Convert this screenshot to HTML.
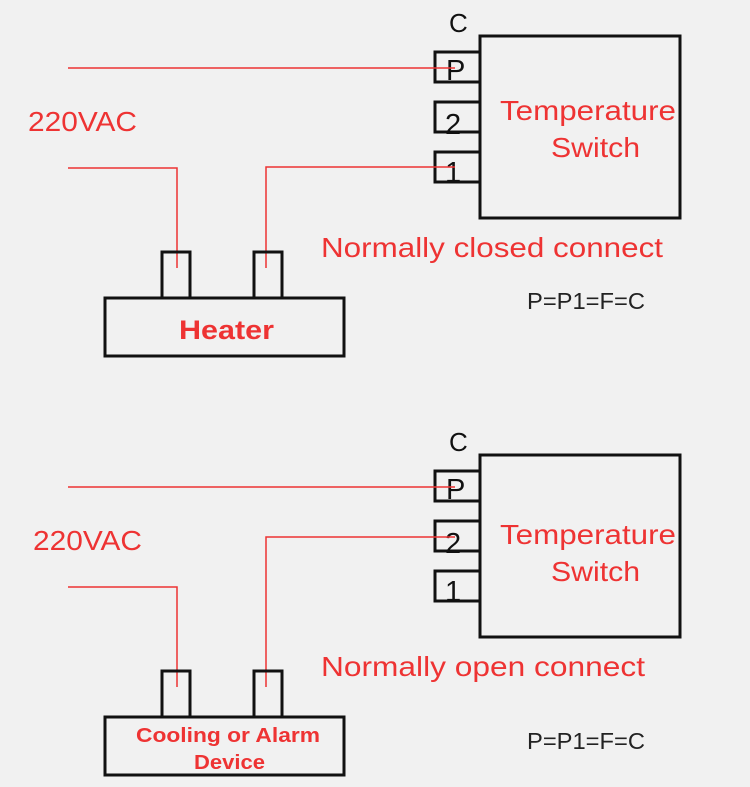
<!DOCTYPE html>
<html><head><style>
body{margin:0;background:#f1f1f1;}
svg{display:block}
text{font-family:"Liberation Sans","DejaVu Sans",sans-serif}
</style></head><body>
<svg width="750" height="787" viewBox="0 0 750 787" xmlns="http://www.w3.org/2000/svg">
<g id="top">
<rect x="480" y="36" width="200" height="182" fill="none" stroke="#111" stroke-width="3"/>
<rect x="435" y="52" width="45" height="30" fill="none" stroke="#111" stroke-width="3"/>
<rect x="435" y="102" width="45" height="30" fill="none" stroke="#111" stroke-width="3"/>
<rect x="435" y="152" width="45" height="30" fill="none" stroke="#111" stroke-width="3"/>
<text x="449" y="32" font-size="26" fill="#111">C</text>
<text x="446" y="80" font-size="29" fill="#111">P</text>
<text x="445" y="134" font-size="29" fill="#111">2</text>
<text x="445" y="182" font-size="29" fill="#111">1</text>
<text x="500" y="120" font-size="28" fill="#e33" textLength="176" lengthAdjust="spacingAndGlyphs">Temperature</text>
<text x="551" y="157" font-size="28" fill="#e33" textLength="89" lengthAdjust="spacingAndGlyphs">Switch</text>
<polyline points="68,68 455,68" fill="none" stroke="#e33" stroke-width="1.5"/>
<polyline points="68,168 177,168 177,268" fill="none" stroke="#e33" stroke-width="1.5"/>
<polyline points="266,268 266,167 455,167" fill="none" stroke="#e33" stroke-width="1.5"/>
<rect x="162" y="252" width="28" height="46" fill="none" stroke="#111" stroke-width="3"/>
<rect x="254" y="252" width="28" height="46" fill="none" stroke="#111" stroke-width="3"/>
<rect x="105" y="298" width="239" height="58" fill="none" stroke="#111" stroke-width="3"/>
<text x="179" y="339" font-size="27" font-weight="bold" fill="#e33" textLength="95" lengthAdjust="spacingAndGlyphs">Heater</text>
<text x="28" y="131" font-size="28" fill="#e33" textLength="109" lengthAdjust="spacingAndGlyphs">220VAC</text>
<text x="321" y="257" font-size="28" fill="#e33" textLength="342" lengthAdjust="spacingAndGlyphs">Normally closed connect</text>
<text x="527" y="309" font-size="23" fill="#222" textLength="118" lengthAdjust="spacingAndGlyphs">P=P1=F=C</text>
</g>
<g transform="translate(0,419)">
<rect x="480" y="36" width="200" height="182" fill="none" stroke="#111" stroke-width="3"/>
<rect x="435" y="52" width="45" height="30" fill="none" stroke="#111" stroke-width="3"/>
<rect x="435" y="102" width="45" height="30" fill="none" stroke="#111" stroke-width="3"/>
<rect x="435" y="152" width="45" height="30" fill="none" stroke="#111" stroke-width="3"/>
<text x="449" y="32" font-size="26" fill="#111">C</text>
<text x="446" y="80" font-size="29" fill="#111">P</text>
<text x="445" y="134" font-size="29" fill="#111">2</text>
<text x="445" y="182" font-size="29" fill="#111">1</text>
<text x="500" y="125" font-size="28" fill="#e33" textLength="176" lengthAdjust="spacingAndGlyphs">Temperature</text>
<text x="551" y="162" font-size="28" fill="#e33" textLength="89" lengthAdjust="spacingAndGlyphs">Switch</text>
<polyline points="68,68 455,68" fill="none" stroke="#e33" stroke-width="1.5"/>
<polyline points="68,168 177,168 177,268" fill="none" stroke="#e33" stroke-width="1.5"/>
<polyline points="266,268 266,118 455,118" fill="none" stroke="#e33" stroke-width="1.5"/>
<rect x="162" y="252" width="28" height="46" fill="none" stroke="#111" stroke-width="3"/>
<rect x="254" y="252" width="28" height="46" fill="none" stroke="#111" stroke-width="3"/>
<rect x="105" y="298" width="239" height="58" fill="none" stroke="#111" stroke-width="3"/>
<text x="136" y="323" font-size="20" font-weight="bold" fill="#e33" textLength="184" lengthAdjust="spacingAndGlyphs">Cooling or Alarm</text>
<text x="194" y="350" font-size="20" font-weight="bold" fill="#e33" textLength="71" lengthAdjust="spacingAndGlyphs">Device</text>
<text x="33" y="131" font-size="28" fill="#e33" textLength="109" lengthAdjust="spacingAndGlyphs">220VAC</text>
<text x="321" y="257" font-size="28" fill="#e33" textLength="324" lengthAdjust="spacingAndGlyphs">Normally open connect</text>
<text x="527" y="330" font-size="23" fill="#222" textLength="118" lengthAdjust="spacingAndGlyphs">P=P1=F=C</text>
</g>
</svg>
</body></html>
